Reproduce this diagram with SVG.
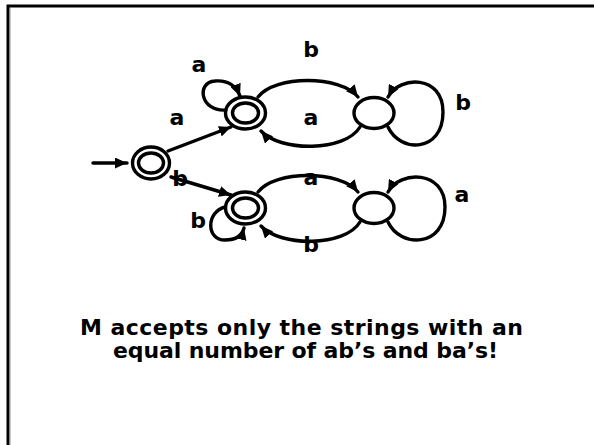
<svg xmlns="http://www.w3.org/2000/svg" width="594" height="445" viewBox="0 0 594 445">
<style>
.st{fill:none;stroke:#000;stroke-width:3.4}
.e{fill:none;stroke:#000;stroke-width:3.4;stroke-linecap:round}
.lb{font-family:"Comic Sans MS","DejaVu Sans",sans-serif;font-weight:bold;font-size:22px;text-anchor:middle;fill:#000}
.mt{font-family:"Comic Sans MS","DejaVu Sans",sans-serif;font-weight:bold;font-size:22px;text-anchor:middle;fill:#000}
</style>
<defs>
<marker id="ah" markerUnits="userSpaceOnUse" markerWidth="13" markerHeight="11" refX="12" refY="5.5" orient="auto">
<path d="M0,0 L12,5.5 L0,11 z" fill="#000"/>
</marker>
</defs>
<rect x="0" y="0" width="594" height="445" fill="#fff"/>
<g id="frame">
<line x1="10.5" y1="8" x2="10.5" y2="445" stroke="#c8c8c8" stroke-width="1"/>
<path d="M8,445 L8,6 L594,6" fill="none" stroke="#000" stroke-width="3"/>
</g>
<g id="q0"><ellipse class="st" cx="151" cy="163" rx="18.5" ry="16"/><ellipse class="st" cx="151" cy="163" rx="12.5" ry="10"/></g>
<g id="q1"><ellipse class="st" cx="245.5" cy="113" rx="20" ry="16"/><ellipse class="st" cx="245.5" cy="113" rx="13" ry="10"/></g>
<g id="q2"><ellipse class="st" cx="245.5" cy="208" rx="20" ry="16"/><ellipse class="st" cx="245.5" cy="208" rx="13" ry="10"/></g>
<g id="q3"><ellipse class="st" cx="374" cy="113" rx="20" ry="15.5"/></g>
<g id="q4"><ellipse class="st" cx="374" cy="208" rx="20" ry="15.5"/></g>
<g id="connectors">
<path class="e" d="M93,163 L127,163" marker-end="url(#ah)"/>
<path class="e" d="M168,151 L231,127" marker-end="url(#ah)"/>
<path class="e" d="M171,177 L231,195" marker-end="url(#ah)"/>
<path class="e" d="M226,110 C200,112 196,82 215,81 C228,80 236,86 240,96" marker-end="url(#ah)"/>
<path class="e" d="M225,207 C206,212 206,240 225,240 C235,240 242,236 244,228" marker-end="url(#ah)"/>
<path class="e" d="M258,97 C275,75 340,75 358,97" marker-end="url(#ah)"/>
<path class="e" d="M360,127 C345,152 280,152 261,131" marker-end="url(#ah)"/>
<path class="e" d="M258,192 C275,170 340,170 358,192" marker-end="url(#ah)"/>
<path class="e" d="M360,222 C345,247 280,247 261,226" marker-end="url(#ah)"/>
<path class="e" d="M388,127 C400,153 443,153 443,112 C443,75 400,75 388,97" marker-end="url(#ah)"/>
<path class="e" d="M388,222 C400,248 445,248 445,207 C445,170 400,170 388,192" marker-end="url(#ah)"/>
</g>
<g id="labels">
<text class="lb" x="199" y="72">a</text>
<text class="lb" x="177" y="125">a</text>
<text class="lb" x="311" y="57">b</text>
<text class="lb" x="311" y="125">a</text>
<text class="lb" x="463" y="110">b</text>
<text class="lb" x="180" y="186">b</text>
<text class="lb" x="198" y="228">b</text>
<text class="lb" x="311" y="185">a</text>
<text class="lb" x="311" y="252">b</text>
<text class="lb" x="462" y="202">a</text>
</g>
<g id="caption">
<text class="mt" x="301.5" y="335" textLength="443">M accepts only the strings with an</text>
<text class="mt" x="305.5" y="358" textLength="385">equal number of ab’s and ba’s!</text>
</g>
</svg>
